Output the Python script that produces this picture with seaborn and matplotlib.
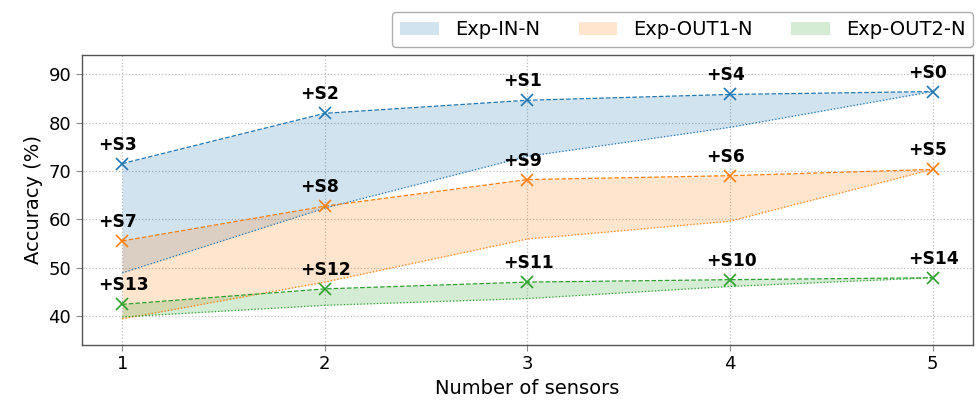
import matplotlib
matplotlib.use("Agg")
import matplotlib.pyplot as plt
import seaborn as sns
import pandas as pd
from matplotlib.patches import Patch

# ---- data ----
n_sensors = [1, 2, 3, 4, 5]
series_names = ["Exp-IN-N", "Exp-OUT1-N", "Exp-OUT2-N"]

in_upper = [71.5, 81.9, 84.6, 85.8, 86.4]
in_lower = [48.9, 62.3, 73.0, 79.0, 86.4]
in_labels = ["+S3", "+S2", "+S1", "+S4", "+S0"]

out1_upper = [55.5, 62.7, 68.2, 69.0, 70.3]
out1_lower = [39.4, 47.0, 55.9, 59.6, 70.3]
out1_labels = ["+S7", "+S8", "+S9", "+S6", "+S5"]

out2_upper = [42.4, 45.6, 47.0, 47.5, 47.9]
out2_lower = [39.8, 42.2, 43.6, 46.1, 47.9]
out2_labels = ["+S13", "+S12", "+S11", "+S10", "+S14"]

colors = ["#1f77b4", "#ff7f0e", "#2ca02c"]

uppers = [in_upper, out1_upper, out2_upper]
lowers = [in_lower, out1_lower, out2_lower]
labels = [in_labels, out1_labels, out2_labels]

sns.set_style("white")
plt.rcParams["font.family"] = ["DejaVu Sans"]
plt.rcParams["text.color"] = "black"
plt.rcParams["axes.labelcolor"] = "black"

fig, ax = plt.subplots(figsize=(9.76, 4.03), dpi=100)
fig.subplots_adjust(left=0.0837, right=0.997, top=0.864, bottom=0.144)

handles = []
for name, up, lo, labs, c in zip(series_names, uppers, lowers, labels, colors):
    df = pd.DataFrame({"n": n_sensors, "upper": up, "lower": lo})
    sns.lineplot(data=df, x="n", y="upper", color=c, linestyle="--", linewidth=0.9,
                 marker="x", markersize=9, markeredgecolor=c, markeredgewidth=1.2,
                 ax=ax, legend=False, zorder=3)
    sns.lineplot(data=df, x="n", y="lower", color=c, linestyle=":", linewidth=0.9,
                 ax=ax, legend=False, zorder=3)
    ax.fill_between(df["n"], df["lower"], df["upper"], color=c, alpha=0.2, linewidth=0)
    for xv, yv, t in zip(n_sensors, up, labs):
        ax.text(xv - 0.12, yv + 2.9, t, ha="left", va="baseline",
                fontsize=12.3, fontweight="bold", color="black")
    handles.append(Patch(facecolor=c, alpha=0.2, edgecolor="none", label=name))

ax.set_xlim(0.8, 5.2)
ax.set_ylim(34, 94)
ax.set_xticks(n_sensors)
ax.set_yticks([40, 50, 60, 70, 80, 90])
ax.tick_params(axis="both", labelsize=13, length=4, width=0.8, color="#888888",
               labelcolor="black", direction="out", bottom=True, left=True)
ax.set_xlabel("Number of sensors", fontsize=14, color="black")
ax.set_ylabel("Accuracy (%)", fontsize=14, color="black")
ax.grid(True, linestyle=":", color="#bbbbbb", linewidth=0.9)
for s in ax.spines.values():
    s.set_color("#555555")
    s.set_linewidth(1.0)

leg = ax.legend(handles=handles, loc="lower right", bbox_to_anchor=(1.0, 1.027),
                borderaxespad=0, ncol=3, fontsize=14, columnspacing=2.0,
                handlelength=2.0, frameon=True, fancybox=True)
leg.get_frame().set_edgecolor("#999999")
for txt in leg.get_texts():
    txt.set_color("black")

fig.savefig("out.png", dpi=100)
